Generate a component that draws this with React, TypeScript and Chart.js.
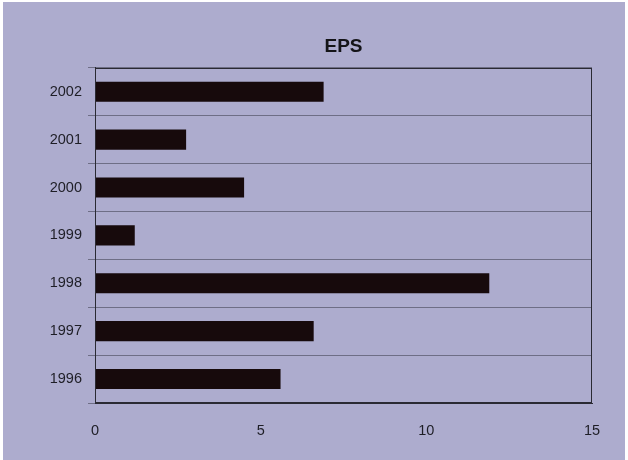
import React, { useEffect, useRef } from "react";
import { Chart, registerables } from "chart.js";

Chart.register(...registerables);

const years = ["2002", "2001", "2000", "1999", "1998", "1997", "1996"];
const eps = [6.9, 2.75, 4.5, 1.2, 11.9, 6.6, 5.6];
const xTicks = [0, 5, 10, 15];
const title = "EPS";

const FONT = "'Liberation Sans', Arial, sans-serif";

const bgPlugin = {
  id: "bgPlugin",
  beforeDraw(chart: any) {
    const { ctx, width, height } = chart;
    ctx.save();
    ctx.fillStyle = "#ffffff";
    ctx.fillRect(0, 0, width, height);
    ctx.fillStyle = "#adacce";
    ctx.fillRect(3, 2, width - 6, height - 2);
    ctx.restore();
  },
  afterDraw(chart: any) {
    const { ctx, chartArea } = chart;
    ctx.save();
    ctx.strokeStyle = "#2a2a33";
    ctx.lineWidth = 1;
    ctx.strokeRect(
      Math.round(chartArea.left) + 0.5,
      Math.round(chartArea.top) + 0.5,
      Math.round(chartArea.right - chartArea.left) - 1,
      Math.round(chartArea.bottom - chartArea.top) - 1
    );
    ctx.restore();
  },
};

export default function App() {
  const ref = useRef<HTMLCanvasElement | null>(null);
  useEffect(() => {
    document.body.style.margin = "0";
    const chart = new Chart(ref.current as HTMLCanvasElement, {
      type: "bar",
      data: {
        labels: years,
        datasets: [
          {
            data: eps,
            backgroundColor: "#170a0c",
            borderWidth: 0,
            categoryPercentage: 1,
            barPercentage: 0.42,
          },
        ],
      },
      options: {
        indexAxis: "y",
        animation: false,
        responsive: false,
        layout: { padding: { top: 35, left: 4, right: 36, bottom: 0 } },
        plugins: {
          legend: { display: false },
          tooltip: { enabled: false },
          title: {
            display: true,
            text: title,
            fullSize: false,
            color: "#141418",
            font: { family: FONT, size: 19, weight: "bold" },
            padding: { top: 0, bottom: 10 },
          },
        },
        scales: {
          x: {
            type: "linear",
            min: 0,
            max: 15,
            afterBuildTicks(scale: any) {
              scale.ticks = xTicks.map((v) => ({ value: v }));
            },
            afterFit(scale: any) {
              scale.height = 57;
            },
            grid: { display: false },
            border: { display: true, color: "#2a2a33" },
            ticks: {
              color: "#1e1e26",
              font: { family: FONT, size: 14.5 },
              padding: 11,
              maxRotation: 0,
            },
          },
          y: {
            type: "category",
            afterFit(scale: any) {
              scale.width = 91;
            },
            grid: {
              display: true,
              offset: true,
              color: "#6e6e86",
              lineWidth: 1,
              tickLength: 7,
              drawTicks: true,
            },
            border: { display: true, color: "#2a2a33" },
            ticks: {
              color: "#1e1e26",
              font: { family: FONT, size: 14.5 },
              padding: 6,
            },
          },
        },
      },
      plugins: [bgPlugin],
    } as any);
    return () => chart.destroy();
  }, []);
  return (
    <div style={{ position: "absolute", left: 0, top: 0, width: 628, height: 460 }}>
      <canvas ref={ref} width={628} height={460} style={{ display: "block" }} />
    </div>
  );
}
